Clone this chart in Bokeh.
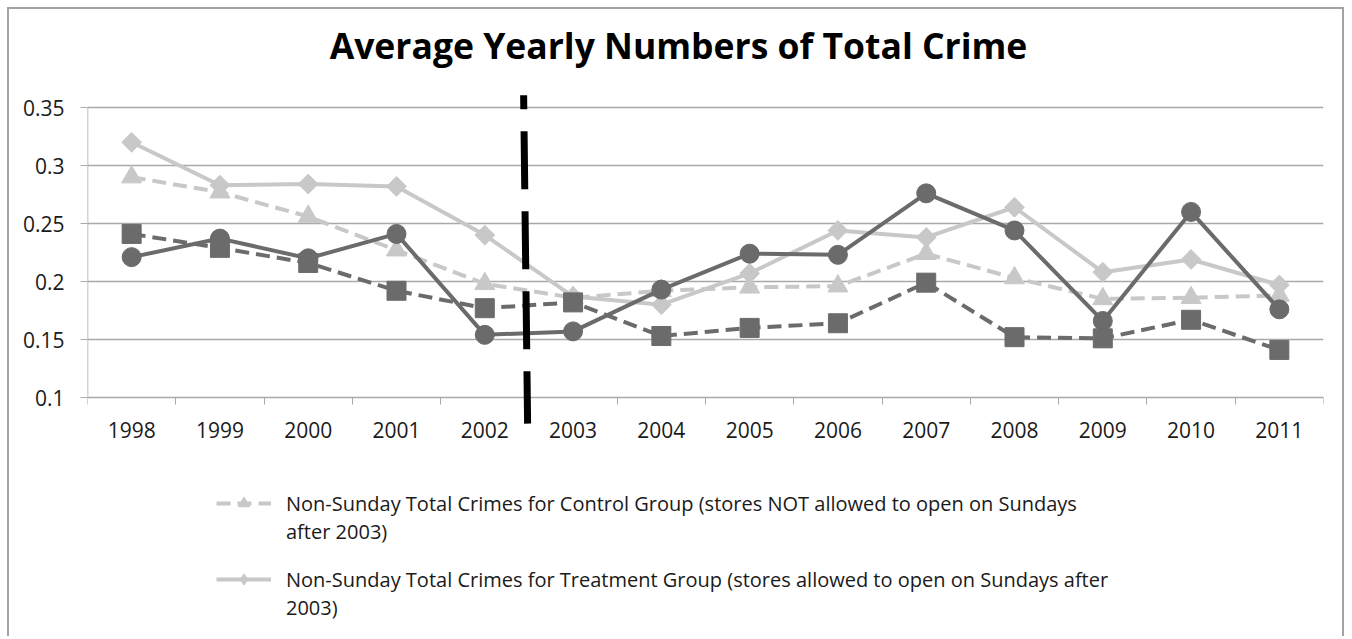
from bokeh.plotting import figure
from bokeh.models import (FixedTicker, Legend, LegendItem, Arrow, Range1d, ColumnDataSource,
                          Label)
from bokeh.embed import file_html
from bokeh.resources import INLINE
import numpy as np

# ---------------- data ----------------
years = ["1998", "1999", "2000", "2001", "2002", "2003", "2004",
         "2005", "2006", "2007", "2008", "2009", "2010", "2011"]

control_non_sunday = [0.290, 0.277, 0.256, 0.227, 0.198, 0.186, 0.192,
                      0.195, 0.196, 0.224, 0.203, 0.185, 0.186, 0.188]
treatment_non_sunday = [0.320, 0.283, 0.284, 0.282, 0.240, 0.187, 0.180,
                        0.207, 0.244, 0.238, 0.264, 0.208, 0.219, 0.197]
control_sunday = [0.241, 0.229, 0.216, 0.192, 0.177, 0.182, 0.153,
                  0.160, 0.164, 0.199, 0.152, 0.151, 0.167, 0.141]
treatment_sunday = [0.221, 0.237, 0.220, 0.241, 0.154, 0.157, 0.193,
                    0.224, 0.223, 0.276, 0.244, 0.166, 0.260, 0.176]

y_tick_labels = ["0.1", "0.15", "0.2", "0.25", "0.3", "0.35"]
policy_year = "2003"

title_text = "Average Yearly Numbers of Total Crime"
label_control = ["Non-Sunday Total Crimes for Control Group (stores NOT allowed to open on Sundays",
                 "after 2003)"]
label_treatment = ["Non-Sunday Total Crimes for Treatment Group (stores allowed to open on Sundays after",
                   "2003)"]

# ---------------- styling ----------------
FONT = "Open Sans"
LIGHT = "#c8c8c8"
DARK = "#6b6b6b"
GRID = "#a9a9a9"
TEXT = "#1a1a1a"
BORDER = "2px solid #a3a3a3"
DASH = "14 7"

n = len(years)
xc = [i + 0.5 for i in range(n)]
y_ticks = [float(s) for s in y_tick_labels]
ystep = y_ticks[1] - y_ticks[0]
PX_PER_STEP = 58.0            # vertical pixels per tick step
PX_PER_CAT = 1236.0 / n       # horizontal pixels per category
top_pad = 98 / PX_PER_STEP * ystep
bottom_pad = 241 / PX_PER_STEP * ystep

src = ColumnDataSource(dict(x=xc, cn=control_non_sunday, tn=treatment_non_sunday,
                            cs=control_sunday, ts=treatment_sunday))

p = figure(width=1337, height=629, output_backend="svg", toolbar_location=None,
           x_range=Range1d(0, n),
           y_range=Range1d(y_ticks[0] - bottom_pad, y_ticks[-1] + top_pad),
           min_border_left=78, min_border_right=23, min_border_top=0,
           min_border_bottom=0)
p.styles = {"margin-left": "7px", "margin-top": "7px",
            "border-left": BORDER, "border-top": BORDER, "border-right": BORDER}
p.title.visible = False
p.outline_line_color = None
p.background_fill_color = "white"
p.border_fill_color = "white"

# title (drawn inside the tall frame)
p.add_layout(Label(x=n / 2 - 27 / PX_PER_CAT, y=y_ticks[-1] + 63 / PX_PER_STEP * ystep,
                   text=title_text, text_font=FONT, text_font_size="35.5px",
                   text_font_style="bold", text_color="black",
                   text_align="center", text_baseline="middle"))

# axes
p.xaxis.fixed_location = y_ticks[0]
p.xaxis.ticker = FixedTicker(ticks=xc, minor_ticks=list(range(n + 1)))
p.xaxis.major_label_overrides = {x: y for x, y in zip(xc, years)}
p.xaxis.major_tick_line_color = None
p.xaxis.minor_tick_line_color = GRID
p.xaxis.minor_tick_out = 7
p.xaxis.minor_tick_in = 0
p.xaxis.axis_line_color = GRID
p.xaxis.major_label_text_font = FONT
p.xaxis.major_label_text_font_size = "21px"
p.xaxis.major_label_text_color = TEXT
p.xaxis.major_label_standoff = 17

p.yaxis.ticker = FixedTicker(ticks=y_ticks, minor_ticks=[])
p.yaxis.major_label_overrides = {v: s for v, s in zip(y_ticks, y_tick_labels)}
p.yaxis.axis_line_color = None
p.yaxis.major_tick_line_color = GRID
p.yaxis.major_tick_out = 7
p.yaxis.major_tick_in = 0
p.yaxis.minor_tick_line_color = None
p.yaxis.major_label_text_font = FONT
p.yaxis.major_label_text_font_size = "21px"
p.yaxis.major_label_text_color = TEXT
p.yaxis.major_label_standoff = 16

p.xgrid.visible = False
p.ygrid.ticker = FixedTicker(ticks=y_ticks, minor_ticks=[])
p.ygrid.grid_line_color = GRID
p.ygrid.grid_line_width = 1.5

# value axis line (only across the tick span)
p.segment(x0=[0], y0=[y_ticks[0]], x1=[0], y1=[y_ticks[-1]],
          line_color=GRID, line_width=1.5)

# series
l1 = p.line("x", "cn", source=src, line_color=LIGHT, line_width=4, line_dash=DASH)
m1 = p.scatter("x", "cn", source=src, marker="triangle", size=20, color=LIGHT)
l2 = p.line("x", "tn", source=src, line_color=LIGHT, line_width=4)
# legend diamond: same points, fully covered by the rotated squares drawn next
leg_diamond = p.scatter("x", "tn", source=src, marker="diamond", size=18, color=LIGHT)
m2 = p.scatter("x", "tn", source=src, marker="square", angle=np.pi / 4, size=14, color=LIGHT)
l4 = p.line("x", "ts", source=src, line_color=DARK, line_width=4)
m4 = p.scatter("x", "ts", source=src, marker="circle", size=19, color=DARK)
l3 = p.line("x", "cs", source=src, line_color=DARK, line_width=4, line_dash=DASH)
m3 = p.scatter("x", "cs", source=src, marker="square", size=19, color=DARK)

# invisible renderer for the continuation rows of wrapped legend labels
blank = p.line("x", "cn", source=src, line_alpha=0)

# policy break line (between 2002 and 2003)
brk = years.index(policy_year)
p.add_layout(Arrow(end=None, x_start=brk - 0.06, x_end=brk - 0.015,
                   y_start=y_ticks[-1] + 0.21 * ystep, y_end=y_ticks[0] - 0.45 * ystep,
                   line_color="black", line_width=7, line_dash="58 22",
                   line_dash_offset=44))


def make_legend(lines, rends, vy):
    items = [LegendItem(label=lines[0], renderers=rends),
             LegendItem(label=lines[1], renderers=[blank])]
    lg = Legend(items=items, location=(129, vy))
    lg.label_text_font = FONT
    lg.label_text_font_size = "20px"
    lg.label_text_color = TEXT
    lg.glyph_width = 55
    lg.glyph_height = 28
    lg.label_height = 28
    lg.label_standoff = 15
    lg.spacing = 0
    lg.padding = 0
    lg.margin = 0
    lg.border_line_color = None
    lg.background_fill_alpha = 0
    return lg


p.add_layout(make_legend(label_control, [l1, m1], 93))
p.add_layout(make_legend(label_treatment, [l2, leg_diamond], 17))

open("out.html", "w").write(file_html(p, INLINE))
